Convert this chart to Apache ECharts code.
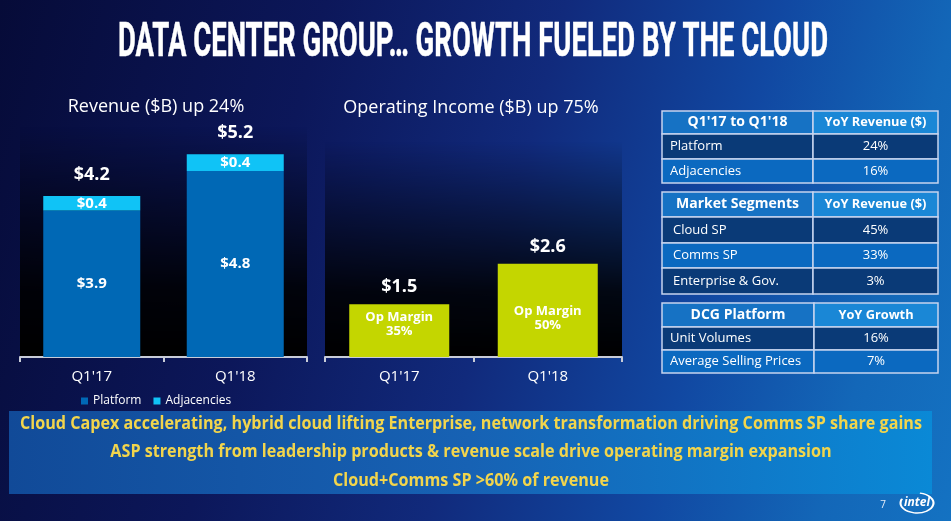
<!DOCTYPE html>
<html><head><meta charset="utf-8">
<script src="https://cdn.jsdelivr.net/npm/echarts@6/dist/echarts.min.js"></script>
<style>
html,body{margin:0;padding:0;width:951px;height:521px;overflow:hidden;}
#c{width:951px;height:521px;background:linear-gradient(105deg,#060b38 0%,#0c175a 30%,#112a7c 52%,#1148a2 72%,#1367b8 88%,#1472c2 100%);}
</style></head>
<body><div id="c"></div>
<script>
// ---------- data ----------
const pageTitle = "DATA CENTER GROUP\u2026 GROWTH FUELED BY THE CLOUD";
const quarters = ["Q1'17", "Q1'18"];
const revenueTitle = "Revenue ($B) up 24%";
const platformRevenue = [3.82, 4.85];
const adjacencyRevenue = [0.38, 0.44];
const platformLabels = ["$3.9", "$4.8"];
const adjacencyLabels = ["$0.4", "$0.4"];
const revenueTotalLabels = ["$4.2", "$5.2"];
const opIncomeTitle = "Operating Income ($B) up 75%";
const operatingIncome = [1.47, 2.6];
const operatingIncomeLabels = ["$1.5", "$2.6"];
const opMargins = ["35%", "50%"];
const legendNames = ["Platform", "Adjacencies"];
const table1Header = ["Q1'17 to Q1'18", "YoY Revenue ($)"];
const table1Rows = [["Platform", "24%"], ["Adjacencies", "16%"]];
const table2Header = ["Market Segments", "YoY Revenue ($)"];
const table2Rows = [["Cloud SP", "45%"], ["Comms SP", "33%"], ["Enterprise & Gov.", "3%"]];
const table3Header = ["DCG Platform", "YoY Growth"];
const table3Rows = [["Unit Volumes", "16%"], ["Average Selling Prices", "7%"]];
const takeaways = [
  "Cloud Capex accelerating, hybrid cloud lifting Enterprise, network transformation driving Comms SP share gains",
  "ASP strength from leadership products & revenue scale drive operating margin expansion",
  "Cloud+Comms SP >60% of revenue"
];
const pageNumber = "7";
const logoText = "intel";

// ---------- helpers ----------
const FF = '"Open Sans", "Noto Sans", sans-serif';
const mctx = document.createElement('canvas').getContext('2d');
function tw(t, font) { mctx.font = font; return mctx.measureText(t).width; }

const chart = echarts.init(document.getElementById('c'), null, {renderer: 'canvas'});
const graphics = [];

// title
const titleFont = 'bold 48px Roboto';
graphics.push({type: 'text', x: 473, y: 44, scaleX: 710 / tw(pageTitle, titleFont), z: 10,
  style: {text: pageTitle, font: titleFont, fill: '#ffffff', stroke: '#ffffff', lineWidth: 0.5,
    textAlign: 'center', textVerticalAlign: 'middle'}});

// chart titles
graphics.push({type: 'text', x: 156, y: 107, z: 10,
  style: {text: revenueTitle, font: '18px ' + FF, fill: '#fff', textAlign: 'center', textVerticalAlign: 'middle'}});
graphics.push({type: 'text', x: 471, y: 108, z: 10,
  style: {text: opIncomeTitle, font: '18px ' + FF, fill: '#fff', textAlign: 'center', textVerticalAlign: 'middle'}});

// tables
function addTable(header, rows, ys, split, indent) {
  const L = 662, R = 938;
  const cells = [header].concat(rows);
  cells.forEach((row, r) => {
    const y0 = ys[r], h = ys[r + 1] - ys[r];
    let fillL, fillR;
    if (r === 0) { fillL = '#1672c4'; fillR = '#1a87d6'; }
    else if (r % 2 === 1) { fillL = fillR = '#0a3a77'; }
    else { fillL = fillR = '#0b69c0'; }
    graphics.push({type: 'rect', z: 5, shape: {x: L, y: y0, width: split - L, height: h},
      style: {fill: fillL, stroke: '#c6d4ee', lineWidth: 1.5}});
    graphics.push({type: 'rect', z: 5, shape: {x: split, y: y0, width: R - split, height: h},
      style: {fill: fillR, stroke: '#c6d4ee', lineWidth: 1.5}});
    const cy = y0 + h / 2;
    if (r === 0) {
      graphics.push({type: 'text', z: 6, x: (L + split) / 2, y: cy,
        style: {text: row[0], font: 'bold 14px ' + FF, fill: '#fff', textAlign: 'center', textVerticalAlign: 'middle'}});
      graphics.push({type: 'text', z: 6, x: (split + R) / 2, y: cy,
        style: {text: row[1], font: 'bold 12.8px ' + FF, fill: '#fff', textAlign: 'center', textVerticalAlign: 'middle'}});
    } else {
      graphics.push({type: 'text', z: 6, x: L + indent, y: cy,
        style: {text: row[0], font: '13px ' + FF, fill: '#fff', textAlign: 'left', textVerticalAlign: 'middle'}});
      graphics.push({type: 'text', z: 6, x: (split + R) / 2, y: cy,
        style: {text: row[1], font: '13px ' + FF, fill: '#fff', textAlign: 'center', textVerticalAlign: 'middle'}});
    }
  });
}
addTable(table1Header, table1Rows, [111, 134, 159, 183], 813, 8);
addTable(table2Header, table2Rows, [192, 217, 243, 268, 294], 813, 11);
addTable(table3Header, table3Rows, [303, 327, 350, 373], 814, 8);

// takeaway banner
graphics.push({type: 'rect', z: 3, shape: {x: 9, y: 411, width: 923, height: 83},
  style: {fill: new echarts.graphic.LinearGradient(0, 0, 1, 0, [
    {offset: 0, color: '#114a98'}, {offset: 0.5, color: '#1762b4'}, {offset: 1, color: '#0a89d6'}])}});
const bannerFont = 'bold 17.5px ' + FF;
const bannerScale = 902 / tw(takeaways[0], bannerFont);
[424, 452, 481].forEach((y, i) => {
  graphics.push({type: 'text', z: 6, x: 471, y: y, scaleX: bannerScale,
    style: {text: takeaways[i], font: bannerFont, fill: '#f2d54c', textAlign: 'center', textVerticalAlign: 'middle'}});
});

// page number and logo
graphics.push({type: 'text', z: 6, x: 883, y: 505,
  style: {text: pageNumber, font: '10px ' + FF, fill: '#e4ecf8', textAlign: 'center', textVerticalAlign: 'middle'}});
graphics.push({type: 'arc', z: 6, x: 917, y: 503, scaleX: 1.65, originX: 0, originY: 0,
  shape: {cx: 0, cy: 0, r: 10, startAngle: -80 * Math.PI / 180, endAngle: 205 * Math.PI / 180, clockwise: true},
  style: {stroke: '#ffffff', lineWidth: 1.3, fill: null}});
graphics.push({type: 'text', z: 6, x: 917, y: 503,
  style: {text: logoText, font: 'italic bold 12px ' + FF, fill: '#fff', textAlign: 'center', textVerticalAlign: 'middle'}});

// ---------- chart ----------
const darkPanel = () => new echarts.graphic.LinearGradient(0, 0, 0, 1, [
  {offset: 0, color: 'rgba(0,0,0,0)'}, {offset: 0.35, color: 'rgba(0,0,0,0.45)'},
  {offset: 0.7, color: 'rgba(0,0,0,0.88)'}, {offset: 1, color: 'rgba(0,0,0,1)'}]);

const axisCommon = {
  type: 'category', data: quarters,
  axisLine: {lineStyle: {color: '#c8ccd8', width: 2}},
  axisTick: {show: true, length: 5, lineStyle: {color: '#c8ccd8', width: 2}},
  axisLabel: {color: '#ffffff', fontSize: 15, margin: 12, fontFamily: FF}
};

const option = {
  animation: false,
  textStyle: {fontFamily: FF},
  grid: [
    {left: 20, width: 287, top: 127, bottom: 164, show: true, borderWidth: 0, backgroundColor: darkPanel()},
    {left: 325, width: 297, top: 142, bottom: 164, show: true, borderWidth: 0, backgroundColor: darkPanel()}
  ],
  xAxis: [Object.assign({gridIndex: 0}, axisCommon), Object.assign({gridIndex: 1}, axisCommon)],
  yAxis: [
    {gridIndex: 0, type: 'value', min: 0, max: 6, show: false},
    {gridIndex: 1, type: 'value', min: 0, max: 6, show: false}
  ],
  legend: {
    data: legendNames, left: 76, top: 390, icon: 'rect', itemWidth: 7, itemHeight: 7, itemGap: 12,
    textStyle: {color: '#ffffff', fontSize: 12, fontFamily: FF}
  },
  series: [
    {name: legendNames[0], type: 'bar', stack: 'rev', xAxisIndex: 0, yAxisIndex: 0, barWidth: 97,
      data: platformRevenue, itemStyle: {color: '#0068b5'},
      label: {show: true, position: 'inside', color: '#fff', fontWeight: 'bold', fontSize: 15,
        formatter: p => platformLabels[p.dataIndex]}},
    {name: legendNames[1], type: 'bar', stack: 'rev', xAxisIndex: 0, yAxisIndex: 0, barWidth: 97,
      data: adjacencyRevenue, itemStyle: {color: '#10c3f6'},
      label: {show: true, position: 'inside', color: '#fff', fontWeight: 'bold', fontSize: 15,
        formatter: p => adjacencyLabels[p.dataIndex]}},
    {name: 'RevenueTotal', type: 'bar', stack: 'rev', xAxisIndex: 0, yAxisIndex: 0, barWidth: 97,
      data: quarters.map(() => 0), itemStyle: {color: 'rgba(0,0,0,0)'},
      label: {show: true, position: 'top', distance: 12, color: '#fff', fontWeight: 'bold', fontSize: 18,
        formatter: p => revenueTotalLabels[p.dataIndex]}},
    {name: 'Operating Income', type: 'bar', stack: 'oi', xAxisIndex: 1, yAxisIndex: 1, barWidth: 100,
      data: operatingIncome.map((v, i) => ({value: v, label: {offset: [0, i === 0 ? -6 : 8]}})),
      itemStyle: {color: '#c4d600'},
      label: {show: true, position: 'inside', color: '#fff', fontWeight: 'bold', fontSize: 13, lineHeight: 14,
        formatter: p => 'Op Margin\n' + opMargins[p.dataIndex]}},
    {name: 'OITotal', type: 'bar', stack: 'oi', xAxisIndex: 1, yAxisIndex: 1, barWidth: 100,
      data: quarters.map(() => 0), itemStyle: {color: 'rgba(0,0,0,0)'},
      label: {show: true, position: 'top', distance: 8, color: '#fff', fontWeight: 'bold', fontSize: 18,
        formatter: p => operatingIncomeLabels[p.dataIndex]}}
  ],
  graphic: graphics
};
chart.setOption(option);
</script>
</body></html>
